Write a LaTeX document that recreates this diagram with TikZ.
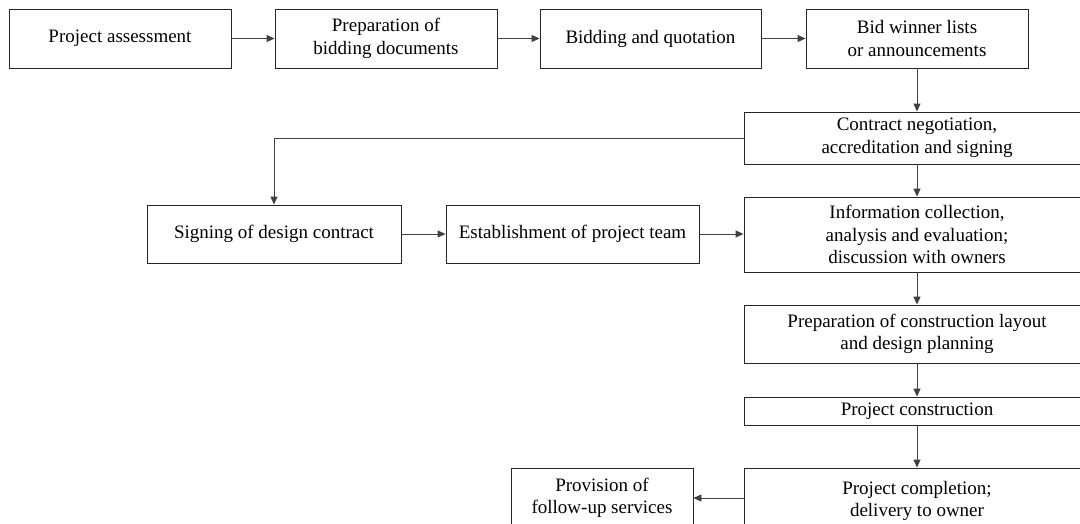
\documentclass[tikz,border=0pt]{standalone}
\usepackage{fontspec}
\setmainfont{Liberation Serif}
\usetikzlibrary{arrows.meta}
\begin{document}
\begin{tikzpicture}[x=1pt,y=-1pt,
  box/.style={draw=black!85, line width=0.9pt, inner sep=0pt, align=center,
    font=\fontsize{19}{22.5}\selectfont, fill=white},
  conn/.style={draw=black!75, line width=0.9pt,
    -{Triangle[length=8pt,width=7pt]}}]
\useasboundingbox (0,0) rectangle (1080,523);
\fill[white] (0,0) rectangle (1080,523);
\begin{scope}
\clip (0,0) rectangle (1080,523);
% top row
\node[box, minimum width=222pt, minimum height=59pt] (b1) at (120,38.5) {Project assessment};
\node[box, minimum width=222pt, minimum height=59pt] (b2) at (386,38.5) {Preparation of\\bidding documents};
\node[box, minimum width=221pt, minimum height=59pt] (b3) at (650.5,38.5) {Bidding and quotation};
\node[box, minimum width=222pt, minimum height=59pt] (b4) at (917,38.5) {Bid winner lists\\or announcements};
% right column
\node[box, minimum width=346pt, minimum height=52pt] (contract) at (917,138) {Contract negotiation,\\accreditation and signing};
\node[box, minimum width=346pt, minimum height=75pt] (info) at (917,234.5) {Information collection,\\analysis and evaluation;\\discussion with owners};
\node[box, minimum width=346pt, minimum height=58pt] (prep) at (917,334) {Preparation of construction layout\\and design planning};
\node[box, minimum width=346pt, minimum height=28pt] (constr) at (917,411) {Project construction};
\node[box, minimum width=346pt, minimum height=66pt] (compl) at (917,501) {Project completion;\\delivery to owner};
% middle row
\node[box, minimum width=254pt, minimum height=58pt] (sign) at (274,234) {Signing of design contract};
\node[box, minimum width=253pt, minimum height=58pt] (estab) at (572.5,234) {Establishment of project team};
% bottom left
\node[box, minimum width=182pt, minimum height=60pt] (follow) at (602,498) {Provision of\\follow-up services};
% connectors
\draw[conn] (b1.east) -- (b2.west);
\draw[conn] (b2.east) -- (b3.west);
\draw[conn] (b3.east) -- (b4.west);
\draw[conn] (b4.south) -- (contract.north);
\draw[conn] (contract.west) -| (sign.north);
\draw[conn] (contract.south) -- (info.north);
\draw[conn] (sign.east) -- (estab.west);
\draw[conn] (estab.east) -- (estab.east -| info.west);
\draw[conn] (info.south) -- (prep.north);
\draw[conn] (prep.south) -- (constr.north);
\draw[conn] (constr.south) -- (compl.north);
\draw[conn] (follow.east -| compl.west) -- (follow.east);
\end{scope}
\end{tikzpicture}
\end{document}
